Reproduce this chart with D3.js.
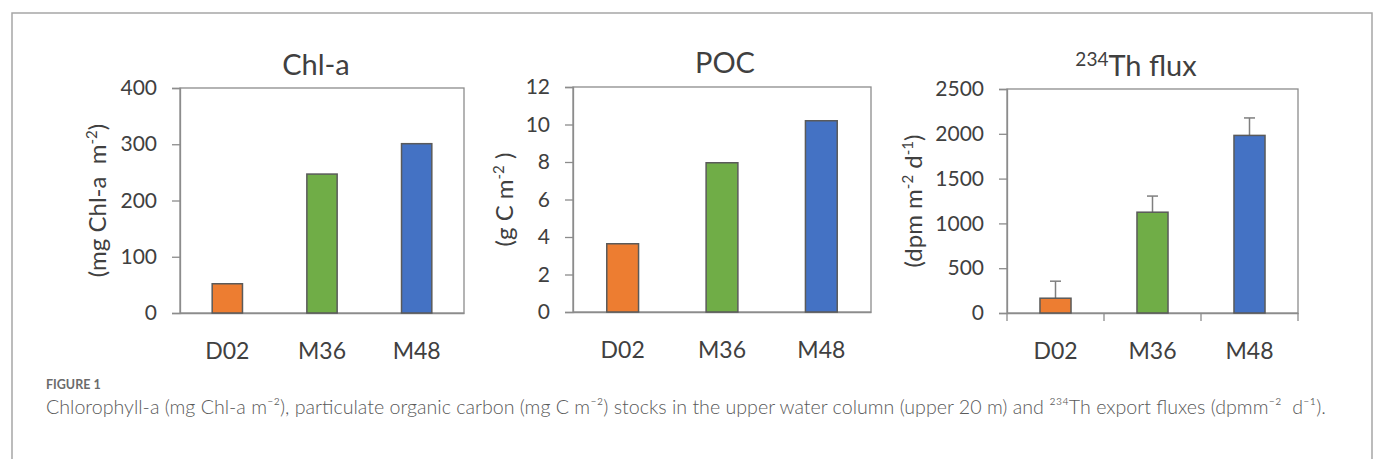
<!DOCTYPE html>
<html>
<head>
<meta charset="utf-8">
<script src="https://cdn.jsdelivr.net/npm/d3@7"></script>
<style>
body { margin: 0; background: #fff; }
svg text { font-family: Lato, "Open Sans", sans-serif; }
</style>
</head>
<body>
<svg id="fig" width="1376" height="459"></svg>
<script>
// data
var categories = ["D02", "M36", "M48"];
var barColors = ["#ED7D31", "#70AD47", "#4472C4"];

var chlValues = [52, 247, 301];
var chlTicks = [0, 100, 200, 300, 400];

var pocValues = [3.64, 7.96, 10.2];
var pocTicks = [0, 2, 4, 6, 8, 10, 12];

var thValues = [165, 1125, 1982];
var thErrors = [190, 180, 195];
var thTicks = [0, 500, 1000, 1500, 2000, 2500];

var svg = d3.select("#fig");

// outer frame (open at the bottom)
svg.append("path")
  .attr("d", "M12,459 L12,13 L1372,13 L1372,459")
  .attr("fill", "none")
  .attr("stroke", "#a6a6a6")
  .attr("stroke-width", 1.5);

var panels = [
  {title: "Chl-a", values: chlValues, ticks: chlTicks,
   left: 180, right: 464, top: 88, bottom: 313, titleX: 316, titleY: 75,
   ylabel: [["(mg Chl-a  m", 0], ["-2", 1], [")", 0]], ylabelX: 106, xTicks: false},
  {title: "POC", values: pocValues, ticks: pocTicks,
   left: 573, right: 871, top: 87, bottom: 312, titleX: 725, titleY: 73,
   ylabel: [["(g C m", 0], ["-2", 1], [" )", 0]], ylabelX: 513, xTicks: false},
  {title: "Th flux", sup: "234", values: thValues, errors: thErrors, ticks: thTicks,
   left: 1007, right: 1298, top: 89, bottom: 313, titleX: 1136, titleY: 76,
   ylabel: [["(dpm m", 0], ["-2", 1], [" d", 0], ["-1", 1], [")", 0]], ylabelX: 922, xTicks: true}
];

panels.forEach(drawPanel);

function drawPanel(p) {
  var g = svg.append("g");

  var x = d3.scaleBand()
    .domain(categories)
    .range([p.left, p.right])
    .paddingInner(0.68)
    .paddingOuter(0.34);

  var y = d3.scaleLinear()
    .domain([0, d3.max(p.ticks)])
    .range([p.bottom, p.top]);

  // plot area border
  g.append("rect")
    .attr("x", p.left).attr("y", p.top)
    .attr("width", p.right - p.left).attr("height", p.bottom - p.top)
    .attr("fill", "none")
    .attr("stroke", "#8c8c8c")
    .attr("stroke-width", 1.3);

  // y axis
  var yAxis = d3.axisLeft(y)
    .tickValues(p.ticks)
    .tickSize(8)
    .tickPadding(15)
    .tickFormat(d3.format("d"));
  var ya = g.append("g")
    .attr("transform", "translate(" + p.left + ",0)")
    .call(yAxis);
  ya.select(".domain").attr("stroke", "#8c8c8c").attr("stroke-width", 1.3);
  ya.selectAll(".tick line").attr("stroke", "#8c8c8c").attr("stroke-width", 1.3);
  ya.selectAll(".tick text")
    .attr("fill", "#404040")
    .style("font-size", "21px")
    .style("font-family", "Lato, sans-serif");

  // x axis
  var xAxis = d3.axisBottom(x).tickSize(0).tickPadding(30);
  var xa = g.append("g")
    .attr("transform", "translate(0," + p.bottom + ")")
    .call(xAxis);
  xa.select(".domain").attr("stroke", "#8c8c8c").attr("stroke-width", 1.3);
  xa.selectAll(".tick text")
    .attr("fill", "#404040")
    .style("font-size", "23px")
    .style("font-family", "Lato, sans-serif");

  // tick marks between categories (third panel only)
  if (p.xTicks) {
    var gap = x.step() - x.bandwidth();
    var edges = [p.left].concat(categories.slice(1).map(function(c) { return x(c) - gap / 2; })).concat([p.right]);
    g.selectAll("line.xtick")
      .data(edges)
      .enter().append("line")
      .attr("class", "xtick")
      .attr("x1", function(d) { return d; })
      .attr("x2", function(d) { return d; })
      .attr("y1", p.bottom)
      .attr("y2", p.bottom + 8)
      .attr("stroke", "#8c8c8c")
      .attr("stroke-width", 1.3);
  }

  // error bars (upper only) drawn behind the bars
  if (p.errors) {
    var eb = g.selectAll("g.err")
      .data(categories)
      .enter().append("g")
      .attr("class", "err");
    eb.append("line")
      .attr("x1", function(d) { return x(d) + x.bandwidth() / 2; })
      .attr("x2", function(d) { return x(d) + x.bandwidth() / 2; })
      .attr("y1", function(d, i) { return y(p.values[i]); })
      .attr("y2", function(d, i) { return y(p.values[i] + p.errors[i]); })
      .attr("stroke", "#7f7f7f").attr("stroke-width", 1.5);
    eb.append("line")
      .attr("x1", function(d) { return x(d) + x.bandwidth() / 2 - 5.5; })
      .attr("x2", function(d) { return x(d) + x.bandwidth() / 2 + 5.5; })
      .attr("y1", function(d, i) { return y(p.values[i] + p.errors[i]); })
      .attr("y2", function(d, i) { return y(p.values[i] + p.errors[i]); })
      .attr("stroke", "#7f7f7f").attr("stroke-width", 1.5);
  }

  // bars
  g.selectAll("rect.bar")
    .data(categories)
    .enter().append("rect")
    .attr("class", "bar")
    .attr("x", function(d) { return x(d); })
    .attr("width", x.bandwidth())
    .attr("y", function(d, i) { return y(p.values[i]); })
    .attr("height", function(d, i) { return y(0) - y(p.values[i]); })
    .attr("fill", function(d, i) { return barColors[i]; })
    .attr("stroke", "#5a5a5a")
    .attr("stroke-width", 1.5);

  // title
  var t = g.append("text")
    .attr("x", p.titleX)
    .attr("y", p.titleY)
    .attr("text-anchor", "middle")
    .attr("fill", "#404040")
    .style("font-size", "29px");
  if (p.sup) {
    t.append("tspan").attr("dy", -10).style("font-size", "19px").text(p.sup);
    t.append("tspan").attr("dy", 10).text(p.title);
  } else {
    t.text(p.title);
  }

  // y label, rotated
  var yl = g.append("text")
    .attr("transform", "translate(" + p.ylabelX + "," + ((p.top + p.bottom) / 2) + ") rotate(-90)")
    .attr("text-anchor", "middle")
    .attr("fill", "#404040")
    .attr("xml:space", "preserve")
    .style("white-space", "pre")
    .style("font-size", "24px");
  var up = false;
  p.ylabel.forEach(function(part) {
    var ts = yl.append("tspan").text(part[0]);
    if (part[1] && !up) { ts.attr("dy", -9).style("font-size", "15px"); up = true; }
    else if (!part[1] && up) { ts.attr("dy", 9); up = false; }
    else if (part[1]) { ts.style("font-size", "15px"); }
  });
}

// caption
svg.append("text")
  .attr("x", 46).attr("y", 389)
  .attr("fill", "#6b6b6b")
  .style("font-size", "12.5px")
  .style("font-weight", "bold")
  .text("FIGURE 1");

var cap = svg.append("text")
  .attr("x", 46).attr("y", 414)
  .attr("fill", "#5a5a5a")
  .attr("xml:space", "preserve")
  .style("white-space", "pre")
  .style("font-size", "15px")
  .style("font-weight", "300")
  .text("Chlorophyll-a (mg Chl-a m\u207B\u00B2), particulate organic carbon (mg C m\u207B\u00B2) stocks in the upper water column (upper 20 m) and \u00B2\u00B3\u2074Th export fluxes (dpmm\u207B\u00B2  d\u207B\u00B9).");
var w = cap.node().getComputedTextLength();
cap.style("font-size", (15 * 1281 / w).toFixed(2) + "px");
</script>
</body>
</html>
